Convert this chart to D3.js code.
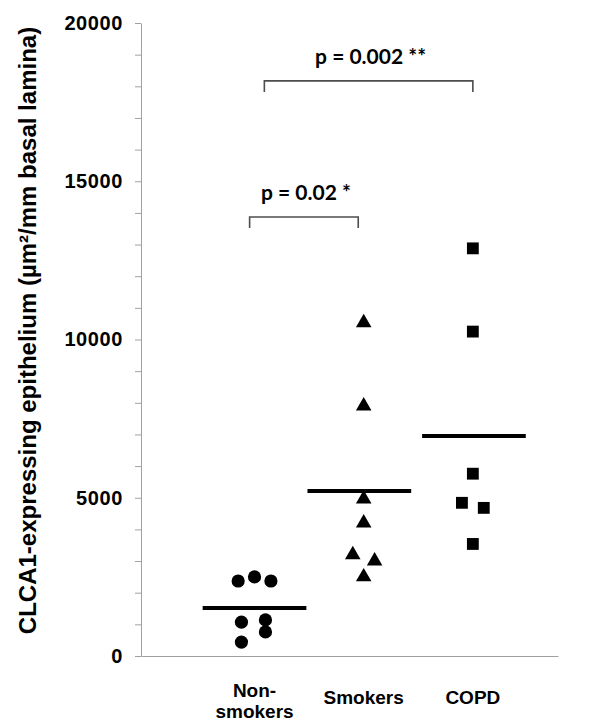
<!DOCTYPE html>
<html>
<head>
<meta charset="utf-8">
<script src="https://cdn.jsdelivr.net/npm/d3@7"></script>
<style>
    body { margin: 0; background: #fff; }
    .axis text { font-family: "Liberation Sans", Arial, sans-serif; font-weight: bold; fill: #000; }
    .pval { font-family: Lato, "Open Sans", sans-serif; font-weight: bold; fill: #000; }
</style>
</head>
<body>
<div id="chart"></div>
<script>
// groups (x position = category index)
const groups = ["Non-smokers", "Smokers", "COPD"];
const groupLabels = [["Non-", "smokers"], ["Smokers"], ["COPD"]];

// individual values
const nonSmokers = [2370, 2500, 2370, 1070, 1140, 760, 440];
const nonSmokersJitter = [-0.15, 0, 0.15, -0.12, 0.1, 0.1, -0.12];
const smokers = [10530, 7900, 4960, 4200, 3200, 3000, 2500];
const smokersJitter = [0, 0, 0, 0, -0.1, 0.1, 0];
const copd = [12880, 10250, 5760, 4840, 4680, 3540];
const copdJitter = [0, 0, 0, -0.1, 0.1, 0];

// group means (horizontal bars)
const means = [1520, 5210, 6950];
const meanCenter = [1, 1.96, 3.01];

// significance brackets
const bracketLabels = ["p = 0.002 **", "p = 0.02 *"];
const bracketFrom = [1.09, 0.955];
const bracketTo = [3.0, 1.95];
const bracketLevel = [18170, 13870];

const yTicks = d3.range(0, 20001, 1000);

let margin = { top: 23, right: 42, bottom: 67, left: 141 };
let width = 600 - margin.left - margin.right;
let height = 723 - margin.top - margin.bottom;

let svg = d3.select("#chart").append("svg")
    .attr("width", 600)
    .attr("height", 723)
    .style("background", "#fff");

let g = svg.append("g")
    .attr("transform", "translate(" + margin.left + "," + margin.top + ")");

// scales
let x = d3.scaleLinear().domain([-0.04, 3.78]).range([0, width]);
let y = d3.scaleLinear().domain([0, 20000]).range([height, 0]);

// y axis
let yAxis = d3.axisLeft(y)
    .tickValues(yTicks)
    .tickSize(6)
    .tickSizeOuter(0)
    .tickPadding(12)
    .tickFormat(d => d % 5000 === 0 ? d : "");

let yG = g.append("g").attr("class", "axis y-axis").call(yAxis);
yG.selectAll("line, path").attr("stroke", "#a0a0a0");
yG.selectAll("text").style("font-size", "20px").style("letter-spacing", "0.6px");

// x axis (line only, labels drawn below)
let xAxis = d3.axisBottom(x).tickValues([]).tickSize(0).tickSizeOuter(0);
let xG = g.append("g").attr("class", "axis x-axis")
    .attr("transform", "translate(0," + height + ")")
    .call(xAxis);
xG.selectAll("path").attr("stroke", "#a0a0a0");

groupLabels.forEach((lines, i) => {
    let t = xG.append("text")
        .attr("text-anchor", "middle")
        .attr("x", x(i + 1))
        .style("font-size", "19px");
    if (lines.length === 1) {
        t.attr("y", 48).text(lines[0]);
    } else {
        lines.forEach((l, j) => {
            t.append("tspan").attr("x", x(i + 1)).attr("y", 41 + j * 21).text(l);
        });
    }
});

// y axis title
svg.append("text")
    .attr("class", "axis")
    .attr("transform", "translate(36," + (margin.top + height / 2 - 9) + ") rotate(-90)")
    .attr("text-anchor", "middle")
    .style("font-family", "'Liberation Sans', Arial, sans-serif")
    .style("font-weight", "bold")
    .style("font-size", "24px")
    .text("CLCA1-expressing epithelium (µm²/mm basal lamina)");

// points
function toPoints(vals, jit, gi) {
    return vals.map((v, i) => ({ x: gi + 1 + jit[i], y: v }));
}

g.selectAll(".ns").data(toPoints(nonSmokers, nonSmokersJitter, 0))
    .enter().append("circle")
    .attr("class", "ns")
    .attr("cx", d => x(d.x))
    .attr("cy", d => y(d.y))
    .attr("r", 6.6)
    .attr("fill", "#000");

g.selectAll(".sm").data(toPoints(smokers, smokersJitter, 1))
    .enter().append("path")
    .attr("class", "sm")
    .attr("d", d3.symbol().type(d3.symbolTriangle).size(105))
    .attr("transform", d => "translate(" + x(d.x) + "," + y(d.y) + ")")
    .attr("fill", "#000");

g.selectAll(".cp").data(toPoints(copd, copdJitter, 2))
    .enter().append("path")
    .attr("class", "cp")
    .attr("d", d3.symbol().type(d3.symbolSquare).size(140))
    .attr("transform", d => "translate(" + x(d.x) + "," + y(d.y) + ")")
    .attr("fill", "#000");

// mean lines
g.selectAll(".mean").data(means)
    .enter().append("line")
    .attr("class", "mean")
    .attr("x1", (d, i) => x(meanCenter[i] - 0.475))
    .attr("x2", (d, i) => x(meanCenter[i] + 0.475))
    .attr("y1", d => y(d))
    .attr("y2", d => y(d))
    .attr("stroke", "#000")
    .attr("stroke-width", 4);

// brackets
bracketLabels.forEach((lab, i) => {
    let x0 = x(bracketFrom[i]), x1 = x(bracketTo[i]), yy = y(bracketLevel[i]);
    g.append("path")
        .attr("d", "M" + x0 + "," + (yy + 11) + "V" + yy + "H" + x1 + "V" + (yy + 11))
        .attr("fill", "none")
        .attr("stroke", "#4d4d4d")
        .attr("stroke-width", 1.6);
    g.append("text")
        .attr("class", "pval")
        .attr("x", (x0 + x1) / 2 + 2)
        .attr("y", yy - 17)
        .attr("text-anchor", "middle")
        .style("font-size", "21px")
        .text(lab);
});
</script>
</body>
</html>
